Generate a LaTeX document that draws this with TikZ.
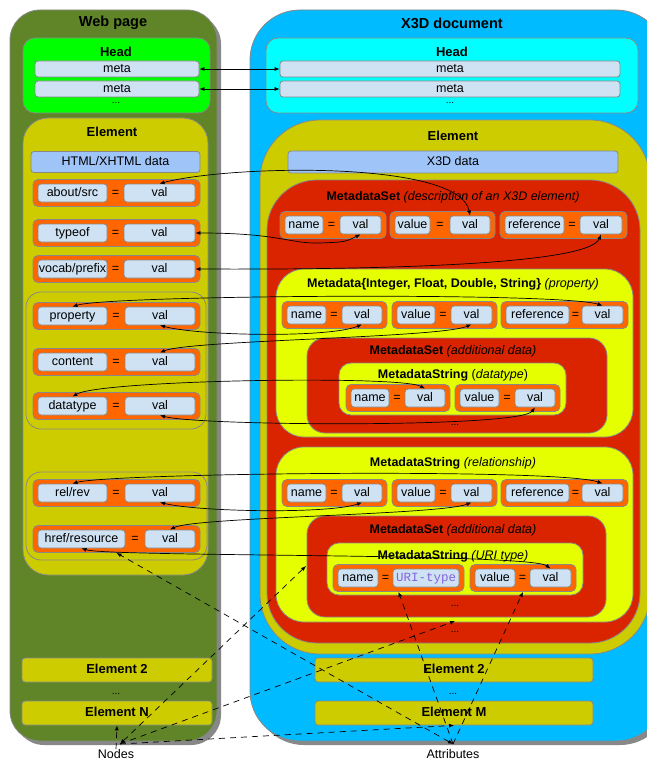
\documentclass[tikz,border=0pt]{standalone}
\usepackage{fontspec}
\setmainfont{Liberation Sans}
\newfontfamily\urifont{Liberation Mono}
\usetikzlibrary{arrows.meta}

\definecolor{webgreen}{RGB}{95,133,40}
\definecolor{x3dblue}{RGB}{0,187,255}
\definecolor{headgreen}{RGB}{0,255,0}
\definecolor{headcyan}{RGB}{0,255,255}
\definecolor{elemyellow}{RGB}{204,204,0}
\definecolor{brightyellow}{RGB}{230,255,0}
\definecolor{setred}{RGB}{218,36,0}
\definecolor{pairorange}{RGB}{255,102,0}
\definecolor{boxblue}{RGB}{207,226,243}
\definecolor{datablue}{RGB}{159,197,248}
\definecolor{edgegray}{RGB}{136,136,136}
\definecolor{uripurple}{RGB}{130,100,220}

\tikzset{
  edgeframe/.style={draw=edgegray, line width=0.8pt},
  txt/.style={font=\fontsize{12.5}{14}\selectfont},
  ellip/.style={font=\fontsize{10}{10}\selectfont, inner sep=0pt},
  boxtitle/.style={font=\fontsize{13}{15}\selectfont\bfseries},
  bigtitle/.style={font=\fontsize{14.5}{16}\selectfont\bfseries},
  settitle/.style={font=\fontsize{12.5}{14}\selectfont},
  inbox/.style={edgeframe, fill=boxblue, rounded corners=3pt, minimum height=18pt, inner sep=0pt, text height=9pt, text depth=2.5pt, txt},
  pairbox/.style={edgeframe, fill=pairorange, rounded corners=5pt, minimum height=27pt, inner sep=0pt},
  elbox/.style={edgeframe, fill=elemyellow, rounded corners=3pt, minimum height=24pt, inner sep=0pt, text height=9.5pt, text depth=2.5pt, boxtitle},
  link/.style={{Latex[length=5pt,width=4pt]}-{Latex[length=5pt,width=4pt]}, line width=0.7pt},
  hint/.style={-{Latex[length=5pt,width=4pt]}, dash pattern=on 6pt off 5pt, line width=0.7pt},
  hint2/.style={hint, {Latex[length=5pt,width=4pt]}-{Latex[length=5pt,width=4pt]}},
}

% box from x1 to x2 at height y
\newcommand{\bx}[6][]{\node (#2) at ({(#3+#4)/2},#5) [inbox, minimum width={(#4-#3)*1pt}, #1] {#6};}
% name = val pair: id, y, orange left, name right, val left, orange right, name, val
\newcommand{\kv}[8]{%
  \node (#1) at ({(#3+#6)/2},#2) [pairbox, minimum width={(#6-#3)*1pt}] {};
  \bx{#1-n}{(#3+5)}{#4}{#2}{#7}
  \bx{#1-v}{#5}{(#6-5)}{#2}{#8}
  \node (#1-eq) at ({(#4+#5)/2},#2) [txt] {=};
}

\begin{document}
\begin{tikzpicture}[x=1pt,y=-1pt]
\useasboundingbox (0,0) rectangle (646,762);

% web page
\fill [edgegray, rounded corners=30pt] (14,14) rectangle (221,745);
\draw [edgeframe, fill=webgreen, rounded corners=30pt] (10,10) rectangle (217,741);
\node (webtitle) at (113,23) [bigtitle] {Web page};
\draw [edgeframe, fill=headgreen, rounded corners=12pt] (23,38) rectangle (210,113);
\node (headl) at (116,52) [boxtitle] {Head};
\bx[minimum height=16pt]{metal1}{35}{199}{69}{meta}
\bx[minimum height=16pt]{metal2}{35}{199}{89}{meta}
\node (headldots) at (116,103) [ellip] {...};
\draw [edgeframe, fill=elemyellow, rounded corners=25pt] (23,118) rectangle (208,575);
\node (eleml) at (112,132) [boxtitle] {Element};
\bx[fill=datablue, minimum height=21pt]{htmldata}{31}{200}{162}{HTML/XHTML data}
\kv{ab}{193}{33}{107}{124}{200}{about/src}{val}
\kv{ty}{233}{33}{107}{124}{200}{typeof}{val}
\kv{vo}{269}{33}{107}{124}{200}{vocab/prefix}{val}
\draw [edgeframe, rounded corners=15pt] (26,292) rectangle (206,429);
\kv{pr}{316}{33}{107}{125}{200}{property}{val}
\kv{co}{362}{33}{107}{125}{200}{content}{val}
\kv{dt}{406}{33}{107}{125}{200}{datatype}{val}
\draw [edgeframe, rounded corners=15pt] (26,472) rectangle (207,560);
\kv{rr}{493}{33}{107}{125}{200}{rel/rev}{val}
\kv{hr}{539}{33}{125}{145}{200}{href/resource}{val}
\node (el2l) at (117,670) [elbox, minimum width=190pt] {Element 2};
\node (eldotsl) at (116,694) [ellip] {...};
\node (elN) at (117,713) [elbox, minimum width=190pt] {Element N};

% x3d document
\fill [edgegray, rounded corners=50pt] (254,14) rectangle (670,745);
\draw [edgeframe, fill=x3dblue, rounded corners=50pt] (250,10) rectangle (666,741);
\node (x3dtitle) at (452,23) [bigtitle] {X3D document};
\draw [edgeframe, fill=headcyan, rounded corners=12pt] (266,38) rectangle (638,113);
\node (headr) at (452,52) [boxtitle] {Head};
\bx[minimum height=16pt]{metar1}{280}{620}{69}{meta}
\bx[minimum height=16pt]{metar2}{280}{620}{89}{meta}
\node (headrdots) at (450,103) [ellip] {...};
\draw [edgeframe, fill=elemyellow, rounded corners=60pt] (260,120) rectangle (650,654);
\node (elemr) at (453,136) [boxtitle] {Element};
\bx[fill=datablue, minimum height=22pt]{x3ddata}{288}{618}{162}{X3D data}

% metadata sets
\draw [edgeframe, fill=setred, rounded corners=50pt] (267,180) rectangle (640,643);
\node (desctitle) at (453,197) [settitle] {\textbf{MetadataSet} \textit{(description of an X3D element)}};
\kv{dn}{225}{280}{323}{340}{386}{name}{val}
\kv{dv}{225}{390}{430}{450}{495}{value}{val}
\kv{dr}{225}{500}{564}{580}{627}{reference}{val}
\draw [edgeframe, fill=brightyellow, rounded corners=28pt] (276,269) rectangle (633,437);
\node (proptitle) at (453,284) [settitle] {\textbf{Metadata\{Integer, Float, Double, String\}} \textit{(property)}};
\kv{pn}{315}{282}{326}{342}{387}{name}{val}
\kv{pv}{315}{392}{435}{451}{497}{value}{val}
\kv{pf}{315}{501}{569}{582}{628}{reference}{val}
\draw [edgeframe, fill=setred, rounded corners=18pt] (307,338) rectangle (607,433);
\node (addtitle1) at (453,351) [settitle] {\textbf{MetadataSet} \textit{(additional data)}};
\draw [edgeframe, fill=brightyellow, rounded corners=12pt] (339,363) rectangle (566,415);
\node (dttitle) at (453,375) [settitle] {\textbf{MetadataString} (\textit{datatype})};
\kv{sn}{398}{346}{389}{405}{450}{name}{val}
\kv{sv}{398}{455}{499}{515}{560}{value}{val}
\node (dtdots) at (455,425) [ellip] {...};
\draw [edgeframe, fill=brightyellow, rounded corners=28pt] (276,447) rectangle (633,622);
\node (reltitle) at (453,463) [settitle] {\textbf{MetadataString} \textit{(relationship)}};
\kv{rn}{493}{282}{326}{342}{387}{name}{val}
\kv{rv}{493}{392}{435}{451}{497}{value}{val}
\kv{rf}{493}{501}{569}{582}{628}{reference}{val}
\draw [edgeframe, fill=setred, rounded corners=18pt] (307,516) rectangle (606,617);
\node (addtitle2) at (453,530) [settitle] {\textbf{MetadataSet} \textit{(additional data)}};
\draw [edgeframe, fill=brightyellow, rounded corners=12pt] (327,543) rectangle (583,595);
\node (urititle) at (453,556) [settitle] {\textbf{MetadataString} \textit{(URI type)}};
\kv{un}{578}{333}{378}{393}{464}{name}{\urifont\color{uripurple}URI-type}
\kv{uv}{578}{470}{515}{530}{576}{value}{val}
\node (uridots) at (455,606) [ellip] {...};
\node (descdotsl) at (455,632) [ellip] {...};
\node (el2r) at (454,670) [elbox, minimum width=278pt] {Element 2};
\node (eldotsr) at (453,694) [ellip] {...};
\node (elM) at (454,713) [elbox, minimum width=278pt] {Element M};

% labels
\node (nodestxt) at (116,754) [txt, inner sep=0pt] {Nodes};
\node (attrtxt) at (453,754) [txt, inner sep=0pt] {Attributes};
\coordinate (nodesj) at (120,744);
\coordinate (attrj) at (453,744);
\coordinate (addset) at (306,566);
\coordinate (descdots) at (455,621);

% mappings
\draw [link] (metal1.east) -- (metar1.west);
\draw [link] (metal2.east) -- (metar2.west);
\draw [link] (ab-v.north) .. controls (230,165) and (460,160) .. (dv-v.north);
\draw [link] (ty-v.east) .. controls (280,233) and (290,244) .. (320,243) .. controls (345,242) .. (dn-v.south);
\draw [link] (vo-v.east) .. controls (420,270) and (590,262) .. (dr-v.south);
\draw [link] (pr-n.north) .. controls (110,295) and (560,292) .. (pf-v.north);
\draw [link] (pr-v.south) .. controls (200,336) and (330,338) .. (pn-v.south);
\draw [link] (co-v.north) .. controls (190,340) and (440,338) .. (pv-v.south);
\draw [link] (dt-n.north) .. controls (100,380) and (400,375) .. (sn-v.north);
\draw [link] (dt-v.south) .. controls (200,426) and (520,428) .. (sv-v.south);
\draw [link] (rr-n.north) .. controls (110,473) and (560,468) .. (rf-v.north);
\draw [link] (rr-v.south) .. controls (200,512) and (330,514) .. (rn-v.south);
\draw [link] (hr-v.north) .. controls (195,517) and (440,515) .. (rv-v.south);
\draw [link] (hr-n.south) .. controls (110,557) and (530,553) .. (uv-v.north);

% nodes and attributes
\draw [hint] (nodestxt.north) -- (elN.south);
\draw [hint2] (nodesj) -- (addset);
\draw [hint] (nodesj) -- (descdots);
\draw [hint] (nodesj) -- (elM.south);
\draw [hint2] (attrj) -- (hr.south);
\draw [hint] (attrj) -- (un.south);
\draw [hint] (attrj) -- (uv.south);
\end{tikzpicture}
\end{document}
